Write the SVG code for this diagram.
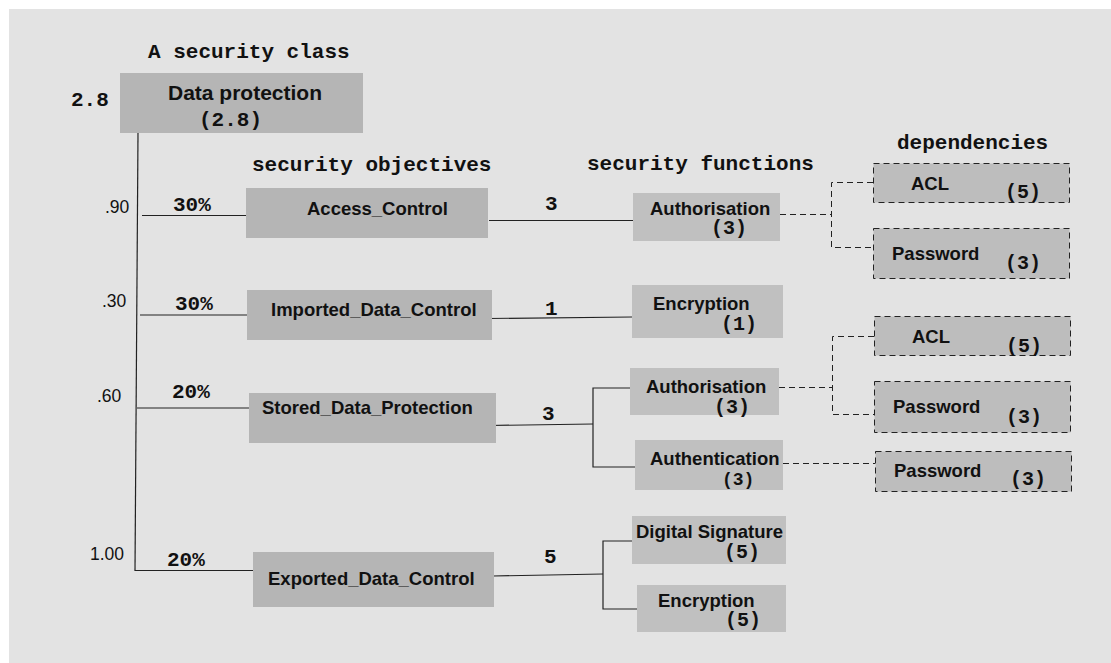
<svg xmlns="http://www.w3.org/2000/svg" width="1111" height="663" viewBox="0 0 1111 663">
  <style>
    .bg { fill: #e3e3e3; }
    .obj { fill: #b5b5b5; }
    .fn { fill: #c0c0c0; }
    .dep { fill: #bdbdbd; stroke: #222; stroke-width: 1; stroke-dasharray: 6 4; }
    .lbl { font-family: "Liberation Sans", Arial, sans-serif; font-weight: bold; font-size: 18.5px; fill: #111; }
    .root { font-size: 21px; }
    .mono { font-family: "Liberation Mono", "Courier New", monospace; font-weight: bold; fill: #111; }
    .hdr { font-size: 21px; }
    .num { font-size: 20px; }
    .sm { font-size: 18px; }
    .wt { font-family: "Liberation Sans", Arial, sans-serif; font-size: 17.5px; fill: #111; }
    .ln { stroke: #222; stroke-width: 1.2; fill: none; }
    .dln { stroke: #222; stroke-width: 1; fill: none; stroke-dasharray: 6 4; }
  </style>

  <rect class="bg" x="9" y="9" width="1102" height="654"/>

  <!-- column headings -->
  <g id="headings">
    <text class="mono hdr" x="148" y="58">A security class</text>
    <text class="mono hdr" x="252" y="171">security objectives</text>
    <text class="mono hdr" x="587" y="170">security functions</text>
    <text class="mono hdr" x="897" y="149">dependencies</text>
  </g>

  <!-- connectors -->
  <g id="connectors">
    <!-- class to objectives -->
    <path class="ln" d="M138,133 L135,571"/>
    <path class="ln" d="M142,215.5 H249"/>
    <path class="ln" d="M140,315 H248"/>
    <path class="ln" d="M137,408 H252"/>
    <path class="ln" d="M135,570.5 H253"/>
    <!-- objectives to functions -->
    <path class="ln" d="M489,220.5 H635"/>
    <path class="ln" d="M488,318.5 L632,317"/>
    <path class="ln" d="M489,425.5 L593,424"/>
    <path class="ln" d="M633,388 H593 V467 H637"/>
    <path class="ln" d="M493,576 L603,574"/>
    <path class="ln" d="M635,541 H603 V609 H638"/>
    <!-- functions to dependencies -->
    <path class="dln" d="M780,214.5 H831.5"/>
    <path class="dln" d="M873,182.5 H831.5 V247.5 H873"/>
    <path class="dln" d="M779,387.5 H832.5"/>
    <path class="dln" d="M874,336.5 H832.5 V414.5 H874"/>
    <path class="dln" d="M783,463.5 H875"/>
    <!-- weights and counts -->
    <text class="wt" x="105" y="213">.90</text>
    <text class="wt" x="102" y="307">.30</text>
    <text class="wt" x="97" y="402">.60</text>
    <text class="wt" x="90" y="560">1.00</text>
    <text class="mono hdr" x="173" y="211">30%</text>
    <text class="mono hdr" x="175" y="310">30%</text>
    <text class="mono hdr" x="172" y="398">20%</text>
    <text class="mono hdr" x="167" y="566">20%</text>
    <text class="mono hdr" x="545" y="210">3</text>
    <text class="mono hdr" x="545" y="315">1</text>
    <text class="mono hdr" x="542" y="420">3</text>
    <text class="mono hdr" x="544" y="563">5</text>
  </g>

  <!-- security class -->
  <g id="data-protection">
    <rect class="obj" x="120" y="73" width="243" height="60"/>
    <text class="lbl root" x="168" y="100">Data protection</text>
    <text class="mono hdr" x="199" y="126">(2.8)</text>
    <text class="mono hdr" x="71" y="106">2.8</text>
  </g>

  <!-- security objectives -->
  <g id="access-control">
    <rect class="obj" x="246" y="188" width="242" height="50"/>
    <text class="lbl" x="307" y="215">Access_Control</text>
  </g>
  <g id="imported-data-control">
    <rect class="obj" x="247" y="290" width="245" height="50"/>
    <text class="lbl" x="271" y="316">Imported_Data_Control</text>
  </g>
  <g id="stored-data-protection">
    <rect class="obj" x="249" y="393" width="247" height="50"/>
    <text class="lbl" x="262" y="414">Stored_Data_Protection</text>
  </g>
  <g id="exported-data-control">
    <rect class="obj" x="253" y="552" width="241" height="55"/>
    <text class="lbl" x="268" y="585">Exported_Data_Control</text>
  </g>

  <!-- security functions -->
  <g id="authorisation-1">
    <rect class="fn" x="633" y="193" width="147" height="48"/>
    <text class="lbl" x="650" y="215">Authorisation</text>
    <text class="mono num" x="711" y="234">(3)</text>
  </g>
  <g id="encryption-1">
    <rect class="fn" x="632" y="285" width="151" height="53"/>
    <text class="lbl" x="653" y="310">Encryption</text>
    <text class="mono num" x="721" y="330">(1)</text>
  </g>
  <g id="authorisation-2">
    <rect class="fn" x="630" y="368" width="149" height="47"/>
    <text class="lbl" x="646" y="393">Authorisation</text>
    <text class="mono num" x="714" y="413">(3)</text>
  </g>
  <g id="authentication">
    <rect class="fn" x="635" y="440" width="148" height="50"/>
    <text class="lbl" x="650" y="465">Authentication</text>
    <text class="mono sm" x="722" y="485">(3)</text>
  </g>
  <g id="digital-signature">
    <rect class="fn" x="632" y="516" width="154" height="48"/>
    <text class="lbl" x="636" y="538">Digital Signature</text>
    <text class="mono num" x="724" y="558">(5)</text>
  </g>
  <g id="encryption-2">
    <rect class="fn" x="637" y="585" width="149" height="47"/>
    <text class="lbl" x="658" y="607">Encryption</text>
    <text class="mono num" x="725" y="626">(5)</text>
  </g>

  <!-- dependencies -->
  <g id="acl-1">
    <rect class="dep" x="873.5" y="163.5" width="196" height="39"/>
    <text class="lbl" x="911" y="190">ACL</text>
    <text class="mono num" x="1005" y="198">(5)</text>
  </g>
  <g id="password-1">
    <rect class="dep" x="873.5" y="228.5" width="196" height="50"/>
    <text class="lbl" x="892" y="260">Password</text>
    <text class="mono num" x="1005" y="269">(3)</text>
  </g>
  <g id="acl-2">
    <rect class="dep" x="874.5" y="316.5" width="196" height="39"/>
    <text class="lbl" x="912" y="343">ACL</text>
    <text class="mono num" x="1006" y="352">(5)</text>
  </g>
  <g id="password-2">
    <rect class="dep" x="874.5" y="381.5" width="196" height="51"/>
    <text class="lbl" x="893" y="413">Password</text>
    <text class="mono num" x="1006" y="423">(3)</text>
  </g>
  <g id="password-3">
    <rect class="dep" x="875.5" y="451.5" width="196" height="40"/>
    <text class="lbl" x="894" y="477">Password</text>
    <text class="mono num" x="1010" y="485">(3)</text>
  </g>
</svg>
